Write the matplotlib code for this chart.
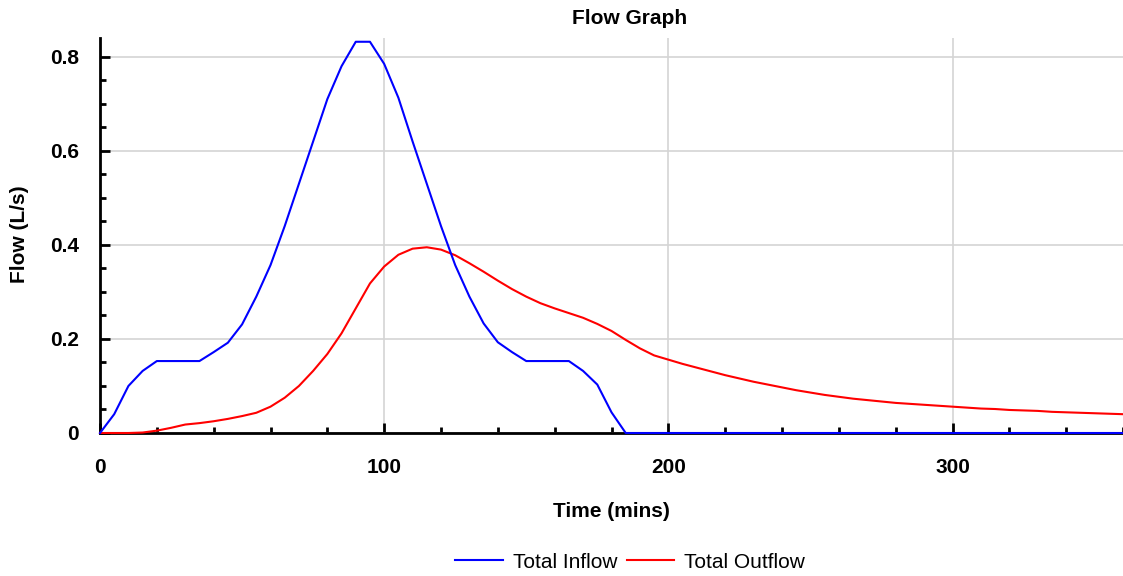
import numpy as np
import matplotlib
matplotlib.use("Agg")
import matplotlib.pyplot as plt
from matplotlib.ticker import MultipleLocator, FixedLocator

plt.rcParams["font.family"] = ["Liberation Sans", "DejaVu Sans"]

# ==========================================
# Hydrograph data (5 minute steps)
# ==========================================

time_mins = np.arange(0, 365, 5)

total_inflow = [
    0.000, 0.040, 0.100, 0.132, 0.153, 0.153, 0.153, 0.153, 0.172, 0.192,
    0.231, 0.290, 0.357, 0.440, 0.530, 0.620, 0.710, 0.780, 0.832, 0.832,
    0.785, 0.713, 0.620, 0.530, 0.440, 0.357, 0.290, 0.233, 0.193, 0.172,
    0.153, 0.153, 0.153, 0.153, 0.132, 0.103, 0.044, 0.000, 0.000, 0.000,
    0.000, 0.000, 0.000, 0.000, 0.000, 0.000, 0.000, 0.000, 0.000, 0.000,
    0.000, 0.000, 0.000, 0.000, 0.000, 0.000, 0.000, 0.000, 0.000, 0.000,
    0.000, 0.000, 0.000, 0.000, 0.000, 0.000, 0.000, 0.000, 0.000, 0.000,
    0.000, 0.000, 0.000,
]

total_outflow = [
    0.000, 0.000, 0.000, 0.001, 0.005, 0.011, 0.018, 0.021, 0.025, 0.030,
    0.036, 0.043, 0.056, 0.075, 0.100, 0.132, 0.168, 0.212, 0.265, 0.318,
    0.354, 0.379, 0.392, 0.395, 0.390, 0.378, 0.361, 0.343, 0.324, 0.306,
    0.290, 0.276, 0.265, 0.255, 0.245, 0.232, 0.217, 0.198, 0.180, 0.165,
    0.156, 0.147, 0.139, 0.131, 0.123, 0.116, 0.109, 0.103, 0.097, 0.091,
    0.086, 0.081, 0.077, 0.073, 0.070, 0.067, 0.064, 0.062, 0.060, 0.058,
    0.056, 0.054, 0.052, 0.051, 0.049, 0.048, 0.047, 0.045, 0.044, 0.043,
    0.042, 0.041, 0.040,
]

y_ticks = [0, 0.2, 0.4, 0.6, 0.8]
y_tick_labels = ["0", "0.2", "0.4", "0.6", "0.8"]
x_ticks = [0, 100, 200, 300]
x_tick_labels = ["0", "100", "200", "300"]

# ==========================================
# Plot
# ==========================================

fig = plt.figure(figsize=(11.23, 5.76), dpi=100)
ax = fig.add_axes([100 / 1123, 1 - 433 / 576, 1023 / 1123, (433 - 38) / 576])

ax.plot(time_mins, total_inflow, color="#0000ff", lw=1.5,
        label="Total Inflow", clip_on=False, zorder=4)
ax.plot(time_mins, total_outflow, color="#ff0000", lw=1.5,
        label="Total Outflow", clip_on=False, zorder=3)

ax.set_xlim(0, 360)
ax.set_ylim(0, 0.84)

ax.spines["top"].set_visible(False)
ax.spines["right"].set_visible(False)
for side in ["left", "bottom"]:
    ax.spines[side].set_linewidth(2)
    ax.spines[side].set_zorder(2)

ax.xaxis.set_major_locator(FixedLocator(x_ticks))
ax.set_xticklabels(x_tick_labels, fontweight="bold", fontsize=15)
ax.xaxis.set_minor_locator(MultipleLocator(20))
ax.yaxis.set_major_locator(FixedLocator(y_ticks))
ax.set_yticklabels(y_tick_labels, fontweight="bold", fontsize=15)
ax.yaxis.set_minor_locator(MultipleLocator(0.05))

ax.tick_params(which="major", direction="in", length=7, width=2)
ax.tick_params(which="minor", direction="in", length=4, width=2)
ax.tick_params(axis="x", which="major", pad=18)
ax.tick_params(axis="y", which="major", pad=15)

ax.grid(True, which="major", color="#d4d4d4", lw=1.2, zorder=0)
ax.set_axisbelow(True)

ax.set_xlabel("Time (mins)", fontweight="bold", fontsize=15, labelpad=18)
fig.text(20 / 1123, 1 - 234 / 576, "Flow (L/s)", rotation=90,
         ha="center", va="center", fontweight="bold", fontsize=15)
fig.text(630 / 1123, 1 - 18 / 576, "Flow Graph", ha="center", va="center",
         fontweight="bold", fontsize=15)

fig.legend(loc="center", bbox_to_anchor=(630 / 1123, 1 - 562 / 576),
           ncol=2, frameon=False, fontsize=15, handlelength=2.3,
           handletextpad=0.45, columnspacing=0.45)

fig.savefig("out.png", dpi=100)
